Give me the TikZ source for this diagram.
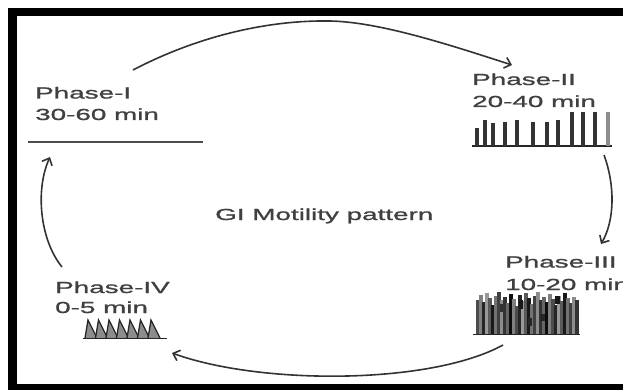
\documentclass[tikz,border=0pt]{standalone}
\usepackage{fontspec}
\setmainfont{Liberation Sans}
\newfontfamily\widefont[FakeStretch=1.74,FakeBold=1.2]{Liberation Sans}
\usetikzlibrary{arrows.meta}
\begin{document}
\begin{tikzpicture}[x=1pt,y=-1pt,
  lbl/.style={anchor=base west, inner sep=0pt, text=black!75, font=\widefont\fontsize{16}{20}\selectfont},
  cyc/.style={draw=black!80, line width=1.6pt, -{Straight Barb[length=6pt,width=11pt]}},
  wave/.style={draw=black!85, line width=1.6pt},
  barfill/.style={fill=black!80}]
\useasboundingbox (0,0) rectangle (623,390);
\fill[white] (0,0) rectangle (623,390);
% frame
\fill[black] (8,8) rectangle (623,16.5);
\fill[black] (8,8) rectangle (16.5,390);
\fill[black] (8,384) rectangle (623,390);

% texts
\node[lbl] (p1a) at (35,98.5) {Phase-I};
\node[lbl] (p1b) at (35,120) {30-60 min};
\node[lbl] (p2a) at (472,85) {Phase-II};
\node[lbl] (p2b) at (472,107) {20-40 min};
\node[lbl] (p3a) at (505,267.5) {Phase-III};
\node[lbl] (p3b) at (505,290) {10-20 min};
\node[lbl] (p4a) at (55,293) {Phase-IV};
\node[lbl] (p4b) at (55,313) {0-5 min};
\node[lbl] (title) at (215,220) {GI Motility pattern};

% Phase I flat line
\draw[draw=black!70, line width=2pt] (28,142) -- (203,142);

% Phase II bars
\draw[wave] (472,146) -- (612,146);
\foreach \x/\t in {476.7/128.3, 485/120, 493.3/123.3, 505/121.7, 516.7/120, 533.3/121.7, 546.7/121.7, 558.3/120, 571.7/112.3, 583.3/112.3, 595/111.7}
  \fill[barfill] (\x-1.9,146) rectangle (\x+1.9,\t);
\fill[black!45] (606,146) rectangle (609.5,112.3);

% Phase III chaotic bars
\foreach \t/\s [count=\i from 0] in {300/70,295/50,302/85,293/40,298/65,305/90,296/55,292/75,300/45,297/80,303/60,294/95,299/50,306/70,295/85,301/40,293/65,298/90,304/55,296/75,292/45,300/80,297/60,302/95,294/50,299/70,305/85,296/40,301/65,293/90,298/55,303/75,297/45,300/80}
{
  \pgfmathsetmacro\xx{478+3*\i}
  \fill[black!\s] (\xx-1.6,334) rectangle (\xx+1.6,\t);
}
\fill[black!90] (519,300) rectangle (523,309);
\fill[black!90] (555,296) rectangle (560,304);
\fill[black!85] (540,314) rectangle (545,321);
\fill[black!80] (500,304) rectangle (503,312);
\fill[black!85] (528,318) rectangle (532,326);
\draw[wave] (473,334.5) -- (580,334.5);

% Phase IV sawtooth
\foreach \x in {85,95.5,106,116.5,127,137.5,148}
  \draw[draw=black!85, line width=1.3pt, fill=black!45, line join=miter] (\x,338) -- (\x+3,320) -- (\x+12,338);
\draw[wave] (83,338.5) -- (167,338.5);

% cycle connectors
\coordinate (a1s) at (133,70);
\coordinate (a1m) at (330,21);
\coordinate (a1e) at (512,65);
\coordinate (a2s) at (604,155);
\coordinate (a2e) at (601,244);
\coordinate (a3s) at (503,345);
\coordinate (a3e) at (172,353);
\coordinate (a4s) at (62,267);
\coordinate (a4e) at (50,157);

\draw[cyc] (a1s) .. controls (200,35) and (270,20) .. (a1m) .. controls (380,22) and (450,45) .. (a1e);
\draw[cyc] (a2s) .. controls (615,185) and (615,220) .. (a2e);
\draw[cyc] (a3s) .. controls (430,385) and (260,385) .. (a3e);
\draw[cyc] (a4s) .. controls (40,240) and (35,190) .. (a4e);
\end{tikzpicture}
\end{document}
